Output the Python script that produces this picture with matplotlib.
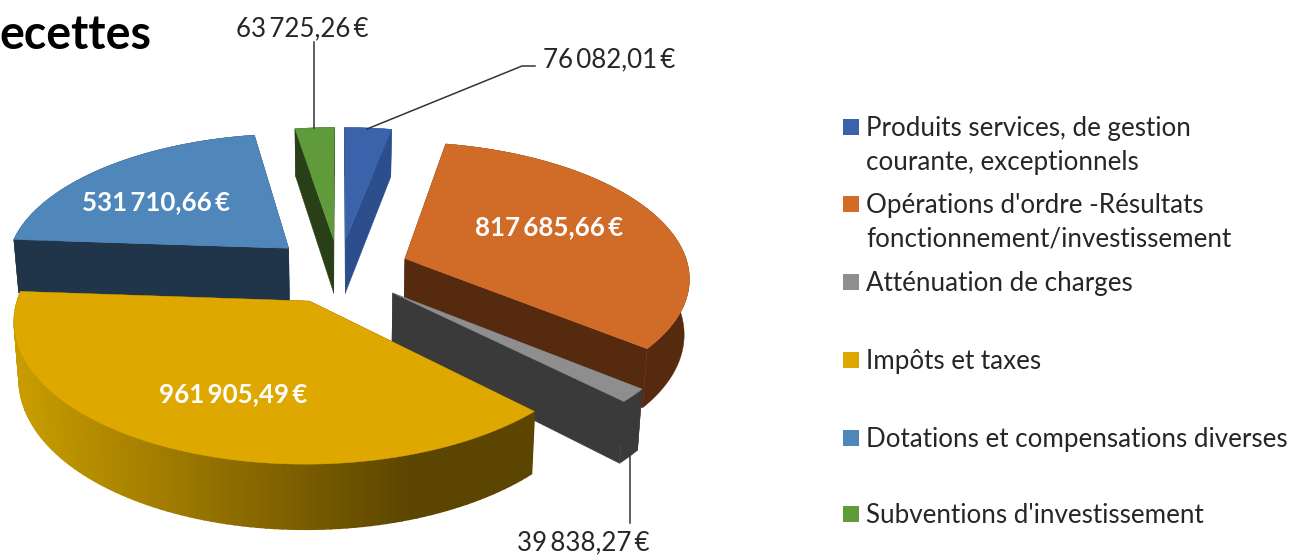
import numpy as np
import matplotlib
matplotlib.use("Agg")
import matplotlib.pyplot as plt
from matplotlib.patches import Polygon, Rectangle

# ---- data ----
categories = ["Produits services, de gestion\ncourante, exceptionnels",
              "Opérations d'ordre -Résultats\nfonctionnement/investissement",
              "Atténuation de charges",
              "Impôts et taxes",
              "Dotations et compensations diverses",
              "Subventions d'investissement"]
values = [76082.01, 817685.66, 39838.27, 961905.49, 531710.66, 63725.26]
value_labels = ["76\u2009082,01\u2009€", "817\u2009685,66\u2009€", "39\u2009838,27\u2009€",
                "961\u2009905,49\u2009€", "531\u2009710,66\u2009€", "63\u2009725,26\u2009€"]

# ---- style ----
top_colors = ["#3A63AC", "#D06C28", "#8E8E8E", "#DFA800", "#4F87BB", "#5F9A3B"]
wall_colors = ["#2C4E8C", "#552A0E", "#3A3A3A", None, "#203549", "#293F18"]
legend_colors = ["#3A63AC", "#D06C28", "#8E8E8E", "#DFA800", "#4F87BB", "#5F9A3B"]
nudges = [(-1, 0), (1.5, -1.5), (1, 0), (-1.5, 0), (-2, -1.5), (-1, 0)]
FONT = ["Lato", "DejaVu Sans"]

CX, CY, FX, FY, P, EXPLODE, HEIGHT, BOTTOM_SCALE = 340, 271, 284, 134, 0.127, 0.24, 55, 0.985

fig = plt.figure(figsize=(12.9, 5.55), dpi=100)
ax = fig.add_axes([0, 0, 1, 1])
ax.set_xlim(0, 1290)
ax.set_ylim(555, 0)
ax.axis("off")


def project(X, Y, nudge, bottom=False):
    w = 1 + P * Y
    scale = BOTTOM_SCALE if bottom else 1.0
    x = CX + scale * FX * X / w + nudge[0]
    y = CY - FY * Y / w + (HEIGHT / w if bottom else 0) + nudge[1]
    return np.column_stack([x, y])


fractions = np.array(values) / np.sum(values)
edges = np.concatenate([[0], np.cumsum(fractions)]) * 2 * np.pi


def mix(c1, c2, t):
    a, b = np.array(matplotlib.colors.to_rgb(c1)), np.array(matplotlib.colors.to_rgb(c2))
    return tuple(a + (b - a) * np.clip(t, 0, 1))


def draw_slice(i):
    t0, t1 = edges[i], edges[i + 1]
    mid = (t0 + t1) / 2
    ox, oy = EXPLODE * np.sin(mid), EXPLODE * np.cos(mid)
    th = np.linspace(t0, t1, 100)
    X = ox + np.sin(th)
    Y = oy + np.cos(th)
    n = nudges[i]
    top = project(X, Y, n)
    bot = project(X, Y, n, bottom=True)
    apex_t = project(np.array([ox]), np.array([oy]), n)
    apex_b = project(np.array([ox]), np.array([oy]), n, bottom=True)
    col = top_colors[i]
    wall = wall_colors[i]
    side = wall if wall else "#5C4500"
    for k in (0, -1):
        ax.add_patch(Polygon(np.vstack([apex_t, top[k], bot[k], apex_b]),
                             closed=True, fc=side, ec=side, lw=0.3))
    if wall:
        ax.add_patch(Polygon(np.vstack([top, bot[::-1]]), closed=True, fc=wall, ec=wall, lw=0.3))
    else:
        for k in range(len(th) - 1):
            xm = 0.5 * (top[k, 0] + top[k + 1, 0])
            c = mix("#C89C00", "#5C4500", (xm - 20) / 390)
            ax.add_patch(Polygon(np.vstack([top[k], top[k + 1], bot[k + 1], bot[k]]),
                                 closed=True, fc=c, ec=c, lw=1.2))
    ax.add_patch(Polygon(np.vstack([apex_t, top]), closed=True, fc=col, ec=col, lw=0.3))


# back-to-front painting order
for i in [0, 5, 4, 1, 2, 3]:
    draw_slice(i)

# leader lines
line_col = "#333333"
ax.plot([314, 314], [42, 128], color=line_col, lw=1.1)
ax.plot([367, 522, 535], [129, 66, 66], color=line_col, lw=1.1)
ax.plot([630, 630], [456, 523], color=line_col, lw=1.1)

# data labels
dark = "#262626"
lab = dict(family=FONT, ha="center", va="center", fontsize=18.6)
ax.text(609, 59.5, value_labels[0], color=dark, **lab)
ax.text(583, 542.5, value_labels[2], color=dark, **lab)
ax.text(302, 28.5, value_labels[5], color=dark, **lab)
ax.text(549, 227.5, value_labels[1], color="white", fontweight="bold", **lab)
ax.text(233, 394.5, value_labels[3], color="white", fontweight="bold", **lab)
ax.text(156, 202.5, value_labels[4], color="white", fontweight="bold", **lab)

# title: only this part of the word is visible in the source
ax.text(151, 49, "ecettes", family=FONT, fontweight="bold", fontsize=33.5, color="black",
        ha="right", va="baseline")

# legend
rows = [127, 204, 282, 360, 438, 514]
for name, c, y in zip(categories, legend_colors, rows):
    ax.add_patch(Rectangle((843, y - 8), 16, 16, fc=c, ec="none"))
    for j, part in enumerate(name.split("\n")):
        ax.text(866, y + 1.5 + j * 34, part, family=FONT, fontsize=18.7, color=dark,
                ha="left", va="center")

fig.savefig("out.png", dpi=100, facecolor="white")
